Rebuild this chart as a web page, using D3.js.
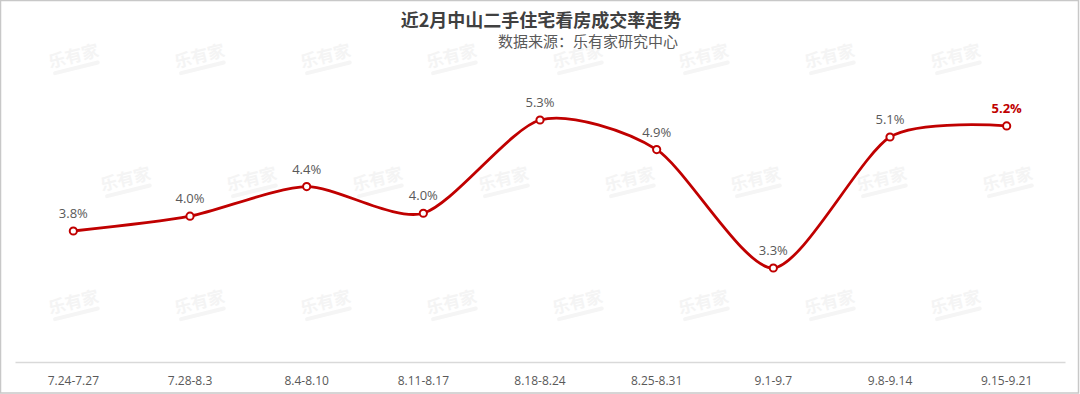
<!DOCTYPE html>
<html>
<head>
<meta charset="utf-8">
<script src="https://cdn.jsdelivr.net/npm/d3@7"></script>
<style>
  body { margin: 0; background: #fff; }
  svg { display: block; font-family: "Microsoft YaHei", "Noto Sans CJK SC", "Open Sans", sans-serif; }
</style>
</head>
<body>
<aside></aside>
<script>
const width = 1080;
const height = 394;

// weeks and viewing-to-deal rate (%)
const weeks = ['7.24-7.27', '7.28-8.3', '8.4-8.10', '8.11-8.17', '8.18-8.24', '8.25-8.31', '9.1-9.7', '9.8-9.14', '9.15-9.21'];
const rates = [3.80, 4.00, 4.40, 4.04, 5.30, 4.90, 3.30, 5.07, 5.22];

const svg = d3.select('aside')
    .append('svg')
    .attr('width', width)
    .attr('height', height);

svg.append('rect')
    .attr('x', 0.5).attr('y', 0.5)
    .attr('width', width - 2).attr('height', height - 1.5)
    .attr('fill', '#fff')
    .attr('stroke', '#c8c8c8')
    .attr('stroke-width', 1.5);

// faint watermark
const wm = svg.append('g');
[62, 185, 308].forEach((wy, row) => {
    for (let i = 0; i < 9; i++) {
        const wx = 75 + i * 126 + (row === 1 ? 52 : 0);
        if (wx > 1060) continue;
        const g = wm.append('g').attr('transform', `translate(${wx},${wy}) rotate(-14)`);
        g.append('text')
            .attr('text-anchor', 'middle')
            .attr('font-size', 17)
            .attr('font-weight', 'bold')
            .attr('fill', '#f4f4f4')
            .text('乐有家');
        g.append('rect')
            .attr('x', -24).attr('y', 4)
            .attr('width', 48).attr('height', 4)
            .attr('rx', 2)
            .attr('fill', '#f5f5f5');
    }
});

const x = d3.scaleBand()
    .domain(weeks)
    .range([15, 1065]);

const y = d3.scaleLinear()
    .domain([3.3, 5.3])
    .range([268, 120]);

// title
svg.append('text')
    .attr('x', 541)
    .attr('y', 27)
    .attr('text-anchor', 'middle')
    .attr('font-size', 18)
    .attr('font-weight', 'bold')
    .attr('fill', '#404040')
    .text('近2月中山二手住宅看房成交率走势');

svg.append('text')
    .attr('x', 678)
    .attr('y', 47)
    .attr('text-anchor', 'end')
    .attr('font-size', 15)
    .attr('fill', '#595959')
    .text('数据来源：乐有家研究中心');

// x axis
const xAxis = svg.append('g')
    .attr('transform', 'translate(0,362)')
    .call(d3.axisBottom(x).tickSize(0).tickPadding(14));
xAxis.select('.domain').attr('stroke', '#d9d9d9').attr('stroke-width', 1.5);
xAxis.selectAll('text')
    .attr('font-size', 12)
    .attr('fill', '#595959')
    .attr('font-family', '"Open Sans", "Noto Sans", sans-serif');

const cx = d => x(d) + x.bandwidth() / 2;

const line = d3.line()
    .x((d, i) => cx(weeks[i]))
    .y(d => y(d))
    .curve(d3.curveCardinal.tension(0.25));

svg.append('path')
    .attr('d', line(rates))
    .attr('fill', 'none')
    .attr('stroke', '#c00000')
    .attr('stroke-width', 2.8);

svg.selectAll('circle')
    .data(rates)
    .join('circle')
    .attr('cx', (d, i) => cx(weeks[i]))
    .attr('cy', d => y(d))
    .attr('r', 3.6)
    .attr('fill', '#fff')
    .attr('stroke', '#c00000')
    .attr('stroke-width', 2);

svg.selectAll('.label')
    .data(rates)
    .join('text')
    .attr('class', 'label')
    .attr('x', (d, i) => cx(weeks[i]))
    .attr('y', d => y(d) - 13)
    .attr('text-anchor', 'middle')
    .attr('font-size', 13)
    .attr('font-family', '"Open Sans", "Noto Sans", sans-serif')
    .attr('font-weight', (d, i) => i === rates.length - 1 ? 'bold' : 'normal')
    .attr('fill', (d, i) => i === rates.length - 1 ? '#c00000' : '#595959')
    .text(d => d.toFixed(1) + '%');
</script>
</body>
</html>
